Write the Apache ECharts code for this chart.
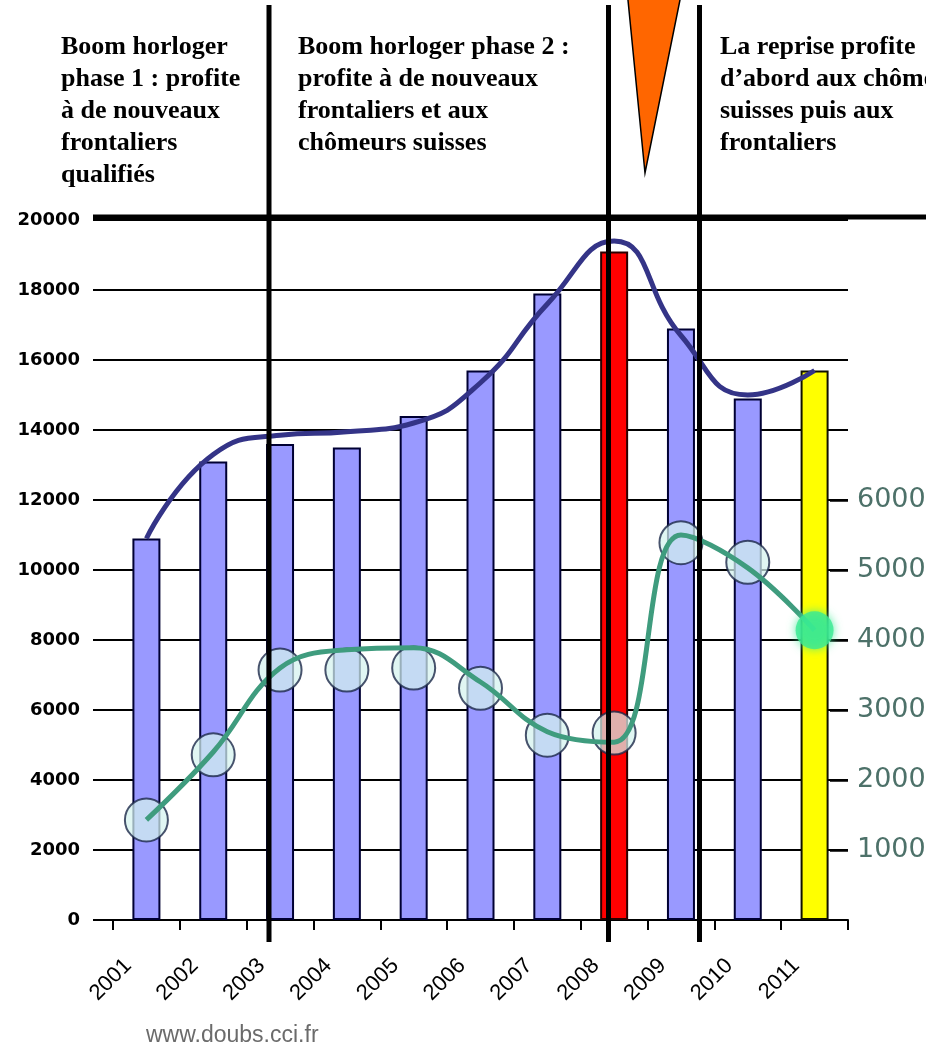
<!DOCTYPE html>
<html><head><meta charset="utf-8">
<script src="https://cdn.jsdelivr.net/npm/echarts@6/dist/echarts.min.js"></script>
<style>html,body{margin:0;padding:0;background:#fff;overflow:hidden}#c{width:926px;height:1048px}</style>
</head><body><div id="c"></div>
<script>
// ---- data ----
const years = ['2001','2002','2003','2004','2005','2006','2007','2008','2009','2010','2011'];
const workers = [10900,13100,13600,13500,14400,15700,17900,19100,16900,14900,15700];
const workersCurve = [10900,13300,13850,13950,14200,15350,17600,19400,16700,15000,15700];
const unemployedCurve = [1430,2400,3600,3860,3890,3400,2690,2540,5500,5030,4140];
const unemployedMarks = [1430,2360,3570,3570,3600,3310,2640,2670,5390,5110,4140];
const leftTicks = [0,2000,4000,6000,8000,10000,12000,14000,16000,18000,20000];
const rightTicks = [1000,2000,3000,4000,5000,6000];
const phase1 = ['Boom horloger','phase 1 : profite','à de nouveaux','frontaliers','qualifiés'];
const phase2 = ['Boom horloger phase 2 :','profite à de nouveaux','frontaliers et aux','chômeurs suisses'];
const phase3 = ['La reprise profite','d’abord aux chômeurs','suisses puis aux','frontaliers'];
const sourceText = 'www.doubs.cci.fr';
const crisisYear = '2008';
const latestYear = '2011';

const chart = echarts.init(document.getElementById('c'), null, {renderer:'canvas'});
const lastIdx = years.indexOf(latestYear);
const marksMain = unemployedMarks.map((v,i)=> i===lastIdx ? '-' : v);
const marksLast = unemployedMarks.map((v,i)=> i===lastIdx ? v : '-');
function barStyle(y){
  if (y===crisisYear) return {color:'#ff0000',borderColor:'#2a0000'};
  if (y===latestYear) return {color:'#ffff00',borderColor:'#111100'};
  return {color:'#9999ff',borderColor:'#000033'};
}
const barData = workers.map((v,i)=>({value:v,itemStyle:barStyle(years[i])}));
const plain = v => String(v);

const option = {
  animation:false,
  backgroundColor:'#fff',
  grid:{left:113,right:78,top:220,bottom:128,outerBoundsMode:'none',containLabel:false},
  xAxis:{
    type:'category', data:years, boundaryGap:true,
    axisLine:{lineStyle:{color:'#000',width:2}},
    axisTick:{show:true,alignWithLabel:false,length:10,lineStyle:{color:'#000',width:2}},
    axisLabel:{interval:0,rotate:45,margin:24,padding:[0,26,0,0],
      fontFamily:'Liberation Sans',fontSize:22,color:'#000'}
  },
  yAxis:[
    {type:'value',min:0,max:20000,interval:2000,
     axisLine:{show:false},axisTick:{show:false},
     splitLine:{show:true,lineStyle:{color:'#000',width:2}},
     axisLabel:{formatter:plain,margin:33,fontFamily:'DejaVu Sans',fontWeight:'bold',fontSize:18,color:'#000',padding:[0,0,14,0]}},
    {type:'value',min:0,max:10000,interval:1000,position:'right',
     axisLine:{show:false},splitLine:{show:false},
     axisTick:{show:true,inside:true,length:18,customValues:rightTicks,lineStyle:{color:'#000',width:2.5}},
     axisLabel:{formatter:plain,customValues:rightTicks,margin:9,fontFamily:'DejaVu Sans',fontSize:27,color:'#4d7169',padding:[14,0,0,0]}}
  ],
  series:[
    {type:'bar',data:barData,barWidth:28,z:2,itemStyle:{borderWidth:2}},
    {type:'line',data:workersCurve,smooth:true,symbol:'none',z:4,
     lineStyle:{color:'#343487',width:5}},
    {type:'scatter',yAxisIndex:1,data:marksMain,symbolSize:43,z:3,
     itemStyle:{color:'rgba(212,243,238,0.9)',borderColor:'#1c2848',borderWidth:2}},
    {type:'line',yAxisIndex:1,data:unemployedCurve,smooth:0.4,symbol:'none',zlevel:1,z:5,
     lineStyle:{color:'#3f9c7e',width:5}},
    {type:'scatter',yAxisIndex:1,data:marksLast,symbolSize:38,zlevel:1,z:6,
     itemStyle:{color:'#3aea92',shadowBlur:10,shadowColor:'#3aea92'}}
  ]
};
chart.setOption(option);

const yPix = v => chart.convertToPixel({yAxisIndex:0}, v);
const g = [];
leftTicks.forEach(v=>{
  const y = yPix(v);
  g.push({type:'line',z:1,shape:{x1:93,y1:y,x2:113,y2:y},style:{stroke:'#000',lineWidth:2}});
});
const yTop = yPix(20000) - 3;
g.push({type:'line',zlevel:1,z:50,shape:{x1:93,y1:yTop,x2:926,y2:yTop},style:{stroke:'#000',lineWidth:5}});
[269,608.5,699.5].forEach(x=>{
  g.push({type:'line',zlevel:1,z:60,shape:{x1:x,y1:5,x2:x,y2:942},style:{stroke:'#000',lineWidth:5}});
});
g.push({type:'polygon',zlevel:1,z:61,shape:{points:[[627,-10],[682,-10],[645,173]]},style:{fill:'#ff6600',stroke:'#000',lineWidth:1.5}});
const tfont = 'bold 26px "Liberation Serif"';
[[61,phase1],[298,phase2],[720,phase3]].forEach(([x,lines])=>{
  g.push({type:'text',zlevel:1,z:70,x:x,y:31,style:{text:lines.join('\n'),font:tfont,fill:'#000',lineHeight:32}});
});
g.push({type:'text',zlevel:1,z:70,x:146,y:1024,style:{text:sourceText,font:'23px "Liberation Sans"',fill:'#6b6b6b'}});
chart.setOption({graphic:g});
</script></body></html>
